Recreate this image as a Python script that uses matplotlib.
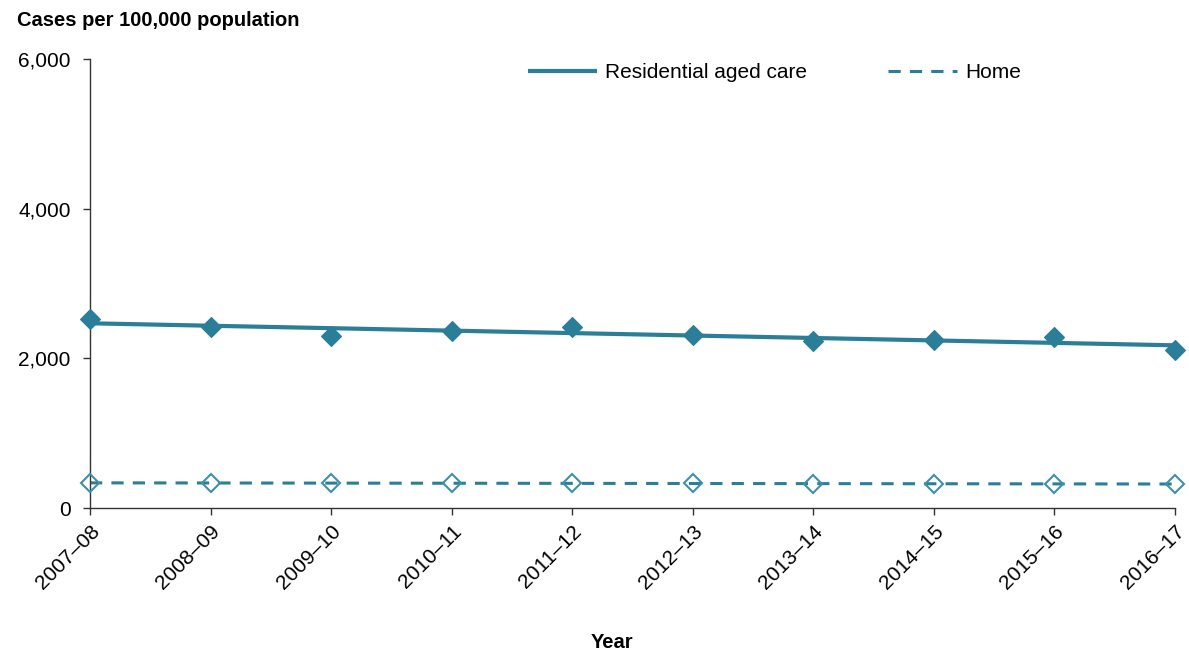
import numpy as np
import matplotlib.pyplot as plt
from matplotlib.ticker import FuncFormatter

plt.rcParams.update({"font.family": ["Liberation Sans", "DejaVu Sans"], "font.size": 15})

years = ["2007–08", "2008–09", "2009–10", "2010–11", "2011–12",
         "2012–13", "2013–14", "2014–15", "2015–16", "2016–17"]
residential = [2520, 2420, 2300, 2370, 2415, 2310, 2230, 2245, 2290, 2110]
home = [335, 333, 330, 332, 335, 328, 325, 325, 322, 318]

DARK = "#2a7e98"
LIGHT = "#3f8fa9"

fig = plt.figure(figsize=(11.89, 6.55), dpi=100)
ax = fig.add_axes([90 / 1189, 1 - 508 / 655, (1175 - 90) / 1189, (508 - 59) / 655])

x = np.arange(len(years))

# linear trend lines through each series
res_fit = np.polyfit(x, residential, 1)
home_fit = np.polyfit(x, home, 1)

ax.plot(x, np.polyval(res_fit, x), color=DARK, linewidth=3.0,
        solid_capstyle="butt", label="Residential aged care", zorder=2, clip_on=False)
ax.plot(x, np.polyval(home_fit, x), color=DARK, linewidth=2.2,
        dashes=(4, 3), label="Home", zorder=2, clip_on=False)

ax.plot(x, residential, linestyle="none", marker="D", markersize=10,
        color=DARK, markeredgecolor=DARK, markeredgewidth=0.8, zorder=3, clip_on=False)
ax.plot(x, home, linestyle="none", marker="D", markersize=9,
        markerfacecolor="none", markeredgecolor=LIGHT, markeredgewidth=1.5,
        zorder=3, clip_on=False)

ax.set_xlim(0, len(years) - 1)
ax.set_ylim(0, 6000)
ax.set_yticks([0, 2000, 4000, 6000])
ax.yaxis.set_major_formatter(FuncFormatter(lambda v, p: f"{int(v):,}"))
ax.set_xticks(x)
ax.set_xticklabels(years, rotation=45, ha="right", rotation_mode="anchor")

for side in ["top", "right"]:
    ax.spines[side].set_visible(False)
for side in ["left", "bottom"]:
    ax.spines[side].set_color("#333333")
    ax.spines[side].set_linewidth(1.0)
ax.tick_params(axis="both", direction="out", length=5, width=1.0,
               color="#333333", labelsize=15, labelcolor="black")
ax.tick_params(axis="y", pad=9)
ax.tick_params(axis="x", pad=5)

fig.text(17 / 1189, 1 - 20 / 655, "Cases per 100,000 population",
         fontsize=14.5, fontweight="bold", va="center", ha="left")
fig.text(612 / 1189, 1 - 643 / 655, "Year", fontsize=14.5, fontweight="bold",
         va="center", ha="center")

ax.legend(loc="center left", bbox_to_anchor=((528 - 90) / (1175 - 90), 1 - (73 - 59) / (508 - 59)),
          ncol=2, frameon=False, handlelength=3.3, handletextpad=0.4,
          columnspacing=3.9, fontsize=15, borderaxespad=0, borderpad=0)

fig.savefig("out.png", dpi=100)
